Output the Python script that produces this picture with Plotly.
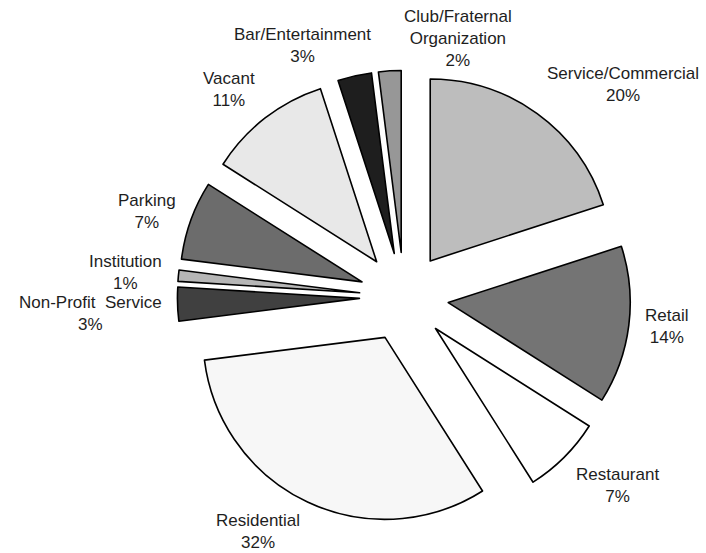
import math
import plotly.graph_objects as go

# ---------------- data ----------------
labels = ["Service/Commercial", "Retail", "Restaurant", "Residential",
          "Non-Profit  Service", "Institution", "Parking", "Vacant",
          "Bar/Entertainment", "Club/Fraternal<br>Organization"]
values = [20, 14, 7, 32, 3, 1, 7, 11, 3, 2]

# ---------------- style ----------------
colors = ["#bdbdbd", "#747474", "#ffffff", "#f7f7f7", "#404040",
          "#b6b6b6", "#6c6c6c", "#e8e8e8", "#1e1e1e", "#979797"]
PULL = 0.245
W, H = 706, 553
CX, CY, R = 404, 297, 182          # pie centre / radius in pixels (layout)
GAPX, GAPY = 14, 8                 # label distance beyond slice edge
FONT = dict(family="Liberation Sans, Arial, Helvetica, sans-serif", size=17, color="#1e1e1e")
# hand placement nudges for labels: index -> (dx px, dy px downward, xanchor override)
label_nudge = {
    3: (0, 0, None),
    4: (0, 9, None),
    5: (0, -2, None),
    6: (0, -6, None),
    8: (21, 0, "right"),
    9: (13, 9, "left"),
}

half = R * (1 + PULL)
domain_x = [(CX - half) / W, (CX + half) / W]
domain_y = [(H - CY - half) / H, (H - CY + half) / H]

fig = go.Figure(go.Pie(
    labels=labels,
    values=values,
    sort=False,
    direction="clockwise",
    rotation=0,
    pull=[PULL] * len(values),
    marker=dict(colors=colors, line=dict(color="#000000", width=1.6)),
    textinfo="none",
    domain=dict(x=domain_x, y=domain_y),
    showlegend=False,
    hoverinfo="label+percent",
))

# labels positioned from the slice angles
total = sum(values)
cum = 0
annotations = []
for i, (lab, v) in enumerate(zip(labels, values)):
    mid = (cum + v / 2) / total * 2 * math.pi
    cum += v
    s, c = math.sin(mid), math.cos(mid)
    px = CX + (half + GAPX) * s
    py = CY - (half + GAPY) * c
    xa = "left" if s > 0.25 else ("right" if s < -0.25 else "center")
    ya = "bottom" if c > 0.5 else ("top" if c < -0.5 else "middle")
    dx, dy = 0, 0
    if i in label_nudge:
        dx, dy, xo = label_nudge[i]
        if xo:
            xa = xo
    pct = f"{round(v / total * 100)}%"
    annotations.append(dict(
        x=px / W, y=1 - py / H, xref="paper", yref="paper",
        text=f"{lab}<br>{pct}", showarrow=False, xanchor=xa, yanchor=ya,
        xshift=dx, yshift=-dy, align="center", font=FONT,
    ))

fig.update_layout(
    width=W, height=H,
    margin=dict(l=0, r=0, t=0, b=0),
    paper_bgcolor="white",
    plot_bgcolor="white",
    showlegend=False,
    annotations=annotations,
)

fig.write_html("out.html")
